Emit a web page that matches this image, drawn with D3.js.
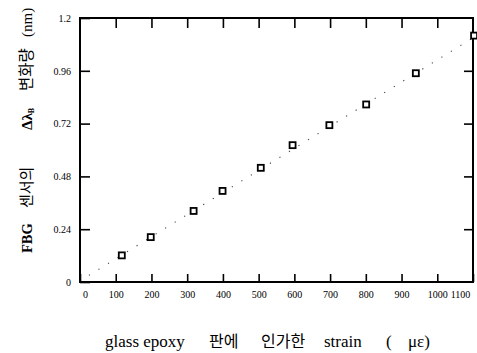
<!DOCTYPE html>
<html>
<head>
<meta charset="utf-8">
<script src="https://cdn.jsdelivr.net/npm/d3@7"></script>
<style>
  html, body { margin: 0; padding: 0; background: #fff; }
  svg { display: block; }
  text { font-family: "Liberation Serif", "Noto Sans CJK KR", serif; fill: #000; }
</style>
</head>
<body>
<svg id="chart" width="477" height="353"></svg>
<script>
// ── Data ──────────────────────────────────────────────────────────────────────
const strain = [117, 198, 318, 399, 506, 595, 698, 801, 940, 1103];      // µε
const shift = [0.121, 0.204, 0.323, 0.414, 0.519, 0.622, 0.713, 0.807, 0.949, 1.12]; // nm

// dotted fit line end points
const fitX = [25, 1100];
const fitY = [0.03, 1.11];

const xTicks = [0, 100, 200, 300, 400, 500, 600, 700, 800, 900, 1000, 1100];
const yTicks = [0, 0.24, 0.48, 0.72, 0.96, 1.2];
const yTickLabels = ["0", "0.24", "0.48", "0.72", "0.96", "1.2"];

// ── Scales ────────────────────────────────────────────────────────────────────
const svg = d3.select("#chart");
const x = d3.scaleLinear().domain([0, 1100]).range([80, 473]);
const y = d3.scaleLinear().domain([0, 1.2]).range([282, 18]);

// ── Axes (ticks point inward on all four sides) ───────────────────────────────
const bottom = svg.append("g")
  .attr("transform", `translate(0,${y(0)})`)
  .call(d3.axisBottom(x).tickValues(xTicks).tickSize(-8).tickPadding(9).tickSizeOuter(0)
    .tickFormat(d3.format("d")));
bottom.selectAll("text").attr("font-size", "10px")
  .attr("dx", (d) => (d === 1100 ? -13 : d === 0 ? 5 : 0));

svg.append("g")
  .attr("transform", `translate(0,${y(1.2)})`)
  .call(d3.axisTop(x).tickValues(xTicks.slice(1, -1)).tickSize(-10).tickSizeOuter(0).tickFormat(""));

const left = svg.append("g")
  .attr("transform", `translate(${x(0)},0)`)
  .call(d3.axisLeft(y).tickValues(yTicks).tickSize(-10).tickPadding(9).tickSizeOuter(0)
    .tickFormat((d, i) => yTickLabels[i]));
left.selectAll("text").attr("font-size", "10px");

svg.append("g")
  .attr("transform", `translate(${x(1100)},0)`)
  .call(d3.axisRight(y).tickValues(yTicks.slice(1, -1)).tickSize(-9).tickSizeOuter(0).tickFormat(""));

svg.selectAll(".domain").remove();
svg.selectAll(".tick line").attr("stroke", "#000").attr("stroke-width", 1.6);

// frame
svg.append("rect")
  .attr("x", x(0)).attr("y", y(1.2))
  .attr("width", x(1100) - x(0)).attr("height", y(0) - y(1.2))
  .attr("fill", "none").attr("stroke", "#000").attr("stroke-width", 2);

// ── Fit line (dotted) ─────────────────────────────────────────────────────────
svg.append("path")
  .datum(d3.zip(fitX, fitY))
  .attr("d", d3.line().x((d) => x(d[0])).y((d) => y(d[1])))
  .attr("fill", "none")
  .attr("stroke", "#444")
  .attr("stroke-width", 1.1)
  .attr("stroke-dasharray", "1.2,10");

// ── Markers: open squares ─────────────────────────────────────────────────────
svg.append("g")
  .selectAll("rect")
  .data(d3.zip(strain, shift))
  .join("rect")
  .attr("x", (d) => x(d[0]) - 3)
  .attr("y", (d) => y(d[1]) - 3)
  .attr("width", 6).attr("height", 6)
  .attr("fill", "#fff").attr("stroke", "#000").attr("stroke-width", 1.8);

// ── Axis titles ───────────────────────────────────────────────────────────────
const xt = [
  ["glass epoxy", 105, 17],
  ["판에", 209, 16],
  ["인가한", 261, 16],
  ["strain", 324, 17],
  ["(", 386, 17],
  ["με)", 408, 17],
];
xt.forEach(([t, px, fs]) => {
  svg.append("text").attr("x", px).attr("y", 347).attr("font-size", fs + "px").text(t);
});

const yt = svg.append("g").attr("transform", "translate(32,0) rotate(-90)");
yt.append("text").attr("x", -253).attr("font-size", "14.5px").attr("font-weight", "bold").text("FBG");
yt.append("text").attr("x", -208).attr("font-size", "15px").text("센서의");
const dl = yt.append("text").attr("x", -130).attr("font-size", "15px").attr("font-weight", "bold");
dl.append("tspan").text("Δλ");
dl.append("tspan").attr("font-size", "8px").attr("dy", 2).text("B");
yt.append("text").attr("x", -91).attr("font-size", "15.5px").text("변화량");
yt.append("text").attr("x", -37).attr("font-size", "15px").text("(nm)");
</script>
</body>
</html>
